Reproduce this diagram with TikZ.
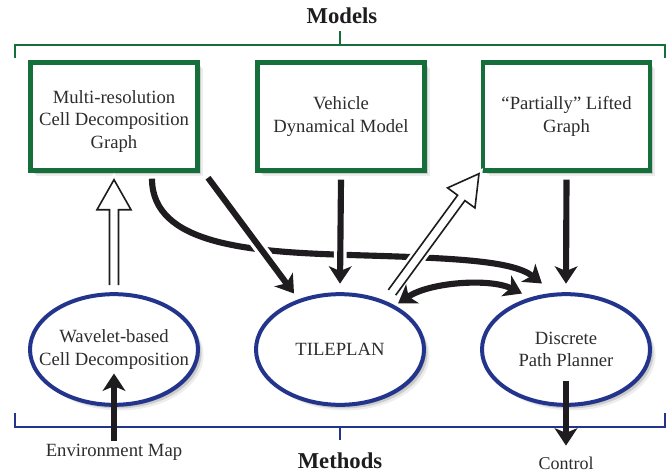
\documentclass[tikz,border=0pt]{standalone}
\usepackage{fontspec}
\setmainfont{Liberation Serif}
\usetikzlibrary{arrows.meta,shapes.geometric,shadows,calc}
\definecolor{boxgreen}{RGB}{22,110,58}
\definecolor{ellblue}{RGB}{35,52,140}
\definecolor{ink}{RGB}{30,28,30}
\definecolor{txt}{RGB}{45,45,45}
\newcommand\hollowarr[2]{%
  \coordinate (hb) at ($(#2)!22.5pt!(#1)$);
  \draw[hollowstyle] ($(#1)!3.4pt!90:(#2)$) -- ($(hb)!3.4pt!90:(#2)$) -- ($(hb)!12.75pt!90:(#2)$) -- (#2) -- ($(hb)!12.75pt!-90:(#2)$) -- ($(hb)!3.4pt!-90:(#2)$) -- ($(#1)!3.4pt!-90:(#2)$);}
\tikzset{
  shad/.style={drop shadow={shadow xshift=1.3pt,shadow yshift=-1.3pt,fill=black,opacity=.22},
               drop shadow={shadow xshift=2.7pt,shadow yshift=-2.7pt,fill=black,opacity=.14},
               drop shadow={shadow xshift=4.2pt,shadow yshift=-4.2pt,fill=black,opacity=.07}},
  modelbox/.style={draw=boxgreen, line width=3.3pt, fill=white, minimum width=125pt, minimum height=81pt,
    align=center, font=\fontsize{14}{17}\selectfont, text=txt, inner sep=2pt, shad},
  method/.style={ellipse, draw=ellblue, line width=3pt, fill=white, minimum width=126pt, minimum height=83pt,
    inner xsep=-20pt, inner ysep=0pt, align=center, font=\fontsize{14}{17}\selectfont, text=txt, shad},
  titletext/.style={font=\bfseries\fontsize{17}{20}\selectfont, text=ink, inner sep=2pt},
  plaintext/.style={font=\fontsize{14}{17}\selectfont, text=txt, inner sep=2pt},
  >={Stealth[length=13pt,width=17pt,inset=3.5pt]},
  arr/.style={draw=ink, line width=4.6pt, ->},
  halo/.style={preaction={draw=white, line width=9.5pt, -, shorten <=3pt, shorten >=12pt}},
  hollowstyle/.style={draw=ink, line width=1.2pt, fill=white, line join=miter,
    preaction={draw=white, line width=5pt}},
  gbrack/.style={draw=boxgreen, line width=1.1pt},
  bbrack/.style={draw=ellblue, line width=1.1pt}
}
\begin{document}
\begin{tikzpicture}[x=0.75pt,y=-0.75pt]
\useasboundingbox (0,0) rectangle (670,471);
% nodes
\node[modelbox] (mr) at (114,116.5) {\rule{0pt}{17pt}Multi-resolution\\Cell Decomposition\\Graph};
\node[modelbox] (veh) at (341,116.5) {Vehicle\\Dynamical Model};
\node[modelbox] (lg) at (566.5,116.5) {“Partially” Lifted\\Graph};
\node[method] (wav) at (114,349.5) {Wavelet-based\\Cell Decomposition};
\node[method] (tile) at (340,349.5) {TILEPLAN};
\node[method] (plan) at (566,349.5) {Discrete\\Path Planner};
\node[titletext, anchor=base] (models) at (342,23) {Models};
\node[titletext, anchor=base] (methods) at (340,468) {Methods};
\node[plaintext, anchor=base] (env) at (114,456) {Environment Map};
\node[plaintext, anchor=base, font=\fontsize{13.5}{16}\selectfont] (ctrl) at (566,469) {Control};
% brackets
\draw[gbrack] (15,58) -- (15,45) -- (665,45) -- (665,58);
\draw[gbrack] (340,45) -- (340,31);
\draw[bbrack] (15,413) -- (15,427) -- (665,427) -- (665,413);
\draw[bbrack] (340,427) -- (340,440);
% coordinates
\coordinate (h1s) at ($(wav.north)+(0,-7)$);
\coordinate (h1t) at ($(mr.south)+(0,7)$);
\coordinate (h2s) at ($(tile.center)+(52,-57)$);
\coordinate (h2t) at ($(lg.south west)+(-2,1)$);
\coordinate (envtip) at ($(wav.center)+(0,24)$);
\coordinate (ctip) at ($(ctrl.north)+(0,-8)$);
% connectors
\draw[arr] ($(mr.south)+(38,6)$) .. controls (152,245) and (250,252) .. (350,255)
  .. controls (450,258) and (512,260) .. ($(plan.center)+(-24,-66)$);
\draw[arr, halo] ($(mr.south)+(94,5)$) -- ($(tile.center)+(-46,-56)$);
\draw[arr, halo] ($(veh.south)+(0,7)$) -- ($(tile.north)+(0,-8.5)$);
\draw[arr] ($(lg.south)+(0,7)$) -- ($(plan.north)+(0,-8.5)$);
\hollowarr{h1s}{h1t}
\hollowarr{h2s}{h2t}
\draw[arr, <->] ($(tile.center)+(58,-46)$) .. controls (430,282) and (490,278) .. ($(plan.center)+(-44,-56)$);
\draw[arr] (env.north) -- (envtip);
\draw[arr] ($(plan.center)+(0,31)$) -- (ctip);
\end{tikzpicture}
\end{document}
